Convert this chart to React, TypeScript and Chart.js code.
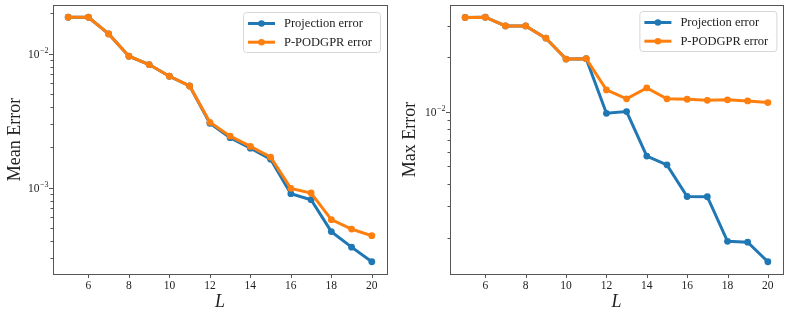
import React, { useEffect, useRef } from 'react';
import { Chart, registerables } from 'chart.js';

Chart.register(...registerables);

// ---------- data ----------
const L = [5, 6, 7, 8, 9, 10, 11, 12, 13, 14, 15, 16, 17, 18, 19, 20];
const xTicks = [6, 8, 10, 12, 14, 16, 18, 20];
const seriesLabels = ['Projection error', 'P-PODGPR error'];
const yTitles = ['Mean Error', 'Max Error'];
const xTitle = 'L';

const meanProjection = [0.01866, 0.01866, 0.0140, 0.00955, 0.00828, 0.00677, 0.00573, 0.00302, 0.00236, 0.00197, 0.00163, 0.000902, 0.000813, 0.00047, 0.00036, 0.00028];
const meanPodgpr = [0.01866, 0.01866, 0.0140, 0.00955, 0.00828, 0.00677, 0.00573, 0.00307, 0.00242, 0.00203, 0.00169, 0.000988, 0.000912, 0.000577, 0.000491, 0.000438];

const maxProjection = [0.0333, 0.0334, 0.0299, 0.0299, 0.0256, 0.0196, 0.0197, 0.00982, 0.01004, 0.00569, 0.00509, 0.0034, 0.00339, 0.00192, 0.0019, 0.00148];
const maxPodgpr = [0.0333, 0.0334, 0.0299, 0.0299, 0.0256, 0.0196, 0.0197, 0.01323, 0.0118, 0.01357, 0.0118, 0.01174, 0.01159, 0.01165, 0.0115, 0.01125];

// ---------- styles ----------
const BLUE = '#1f77b4';
const ORANGE = '#ff7f0e';
const FONT = '"Liberation Serif", "DejaVu Serif", serif';
const TEXT = '#222';
const SPINE = '#555';

type PanelProps = {
  width: number;
  yTitle: string;
  projection: number[];
  podgpr: number[];
  yAxisWidth: number;
  rightPad: number;
  legendInset: { right: number; top: number };
};

function Panel({ width, yTitle, projection, podgpr, yAxisWidth, rightPad, legendInset }: PanelProps) {
  const ref = useRef<HTMLCanvasElement>(null);

  useEffect(() => {
    if (!ref.current) return;
    const all = [...projection, ...podgpr];
    const lo = Math.log10(Math.min(...all));
    const hi = Math.log10(Math.max(...all));
    const m = (hi - lo) * 0.05;
    const yMin = Math.pow(10, lo - m);
    const yMax = Math.pow(10, hi + m);
    const xSpan = L[L.length - 1] - L[0];
    const xMin = L[0] - xSpan * 0.05;
    const xMax = L[L.length - 1] + xSpan * 0.05;

    const decorPlugin = {
      id: 'decor',
      afterDraw(chart: any) {
        const ctx = chart.ctx as CanvasRenderingContext2D;
        const a = chart.chartArea;
        const xs = chart.scales.x;
        const ys = chart.scales.y;
        ctx.save();
        // frame
        ctx.strokeStyle = SPINE;
        ctx.lineWidth = 1;
        ctx.strokeRect(Math.round(a.left) + 0.5, Math.round(a.top) + 0.5, Math.round(a.right - a.left), Math.round(a.bottom - a.top));
        // x tick marks
        ctx.beginPath();
        for (const v of xTicks) {
          const x = Math.round(xs.getPixelForValue(v)) + 0.5;
          ctx.moveTo(x, a.bottom);
          ctx.lineTo(x, a.bottom + 4);
        }
        // y tick marks (major + minor)
        const dLo = Math.floor(Math.log10(yMin));
        const dHi = Math.ceil(Math.log10(yMax));
        const majors: number[] = [];
        for (let d = dLo; d <= dHi; d++) {
          for (let k = 1; k <= 9; k++) {
            const v = k * Math.pow(10, d);
            if (v < yMin || v > yMax) continue;
            const y = Math.round(ys.getPixelForValue(v)) + 0.5;
            const len = k === 1 ? 4 : 2.5;
            ctx.moveTo(a.left, y);
            ctx.lineTo(a.left - len, y);
            if (k === 1) majors.push(d);
          }
        }
        ctx.stroke();
        // y tick labels 10^d
        ctx.fillStyle = TEXT;
        for (const d of majors) {
          const y = ys.getPixelForValue(Math.pow(10, d));
          const exp = (d < 0 ? '\u2212' : '') + Math.abs(d);
          ctx.font = `8px ${FONT}`;
          const we = ctx.measureText(exp).width;
          ctx.font = `11.5px ${FONT}`;
          const wb = ctx.measureText('10').width;
          const xe = a.left - 4.5;
          ctx.textAlign = 'left';
          ctx.textBaseline = 'alphabetic';
          ctx.fillText('10', xe - we - wb - 0.5, y + 4);
          ctx.font = `8px ${FONT}`;
          ctx.fillText(exp, xe - we, y - 0.5);
        }
        // x title
        ctx.font = `italic 18px ${FONT}`;
        ctx.textAlign = 'center';
        ctx.textBaseline = 'alphabetic';
        ctx.fillText(xTitle, (a.left + a.right) / 2, 307);
        // y title
        ctx.save();
        ctx.translate(15, (a.top + a.bottom) / 2);
        ctx.rotate(-Math.PI / 2);
        ctx.font = `18px ${FONT}`;
        ctx.textAlign = 'center';
        ctx.textBaseline = 'middle';
        ctx.fillText(yTitle, 0, 0);
        ctx.restore();
        // legend
        const bw = 137;
        const bh = 40;
        const bx = a.right - legendInset.right - bw;
        const by = a.top + legendInset.top;
        ctx.beginPath();
        ctx.roundRect(bx + 0.5, by + 0.5, bw, bh, 3);
        ctx.fillStyle = 'rgba(255,255,255,0.8)';
        ctx.fill();
        ctx.strokeStyle = '#d6d6d6';
        ctx.lineWidth = 1;
        ctx.stroke();
        chart.data.datasets.forEach((ds: any, i: number) => {
          const cy = by + 11.5 + i * 18.7;
          ctx.strokeStyle = ds.borderColor;
          ctx.lineWidth = 3;
          ctx.beginPath();
          ctx.moveTo(bx + 5, cy);
          ctx.lineTo(bx + 32, cy);
          ctx.stroke();
          ctx.fillStyle = ds.borderColor;
          ctx.beginPath();
          ctx.arc(bx + 18.5, cy, 3.3, 0, Math.PI * 2);
          ctx.fill();
          ctx.fillStyle = TEXT;
          ctx.font = `12.5px ${FONT}`;
          ctx.textAlign = 'left';
          ctx.textBaseline = 'middle';
          ctx.fillText(ds.label, bx + 41, cy + 0.5);
        });
        ctx.restore();
      },
    };

    const mk = (vals: number[]) => L.map((x, i) => ({ x, y: vals[i] }));

    const chart = new Chart(ref.current, {
      type: 'line',
      data: {
        datasets: [
          {
            label: seriesLabels[0],
            data: mk(projection),
            borderColor: BLUE,
            backgroundColor: BLUE,
            borderWidth: 3,
            pointRadius: 3.4,
            pointBorderWidth: 0,
            tension: 0,
            order: 1,
          },
          {
            label: seriesLabels[1],
            data: mk(podgpr),
            borderColor: ORANGE,
            backgroundColor: ORANGE,
            borderWidth: 3,
            pointRadius: 3.4,
            pointBorderWidth: 0,
            tension: 0,
            order: 0,
          },
        ],
      },
      options: {
        animation: false,
        responsive: false,
        layout: { padding: { left: 0, right: rightPad, top: 5, bottom: 0 } },
        plugins: { legend: { display: false }, tooltip: { enabled: false } },
        scales: {
          x: {
            type: 'linear',
            min: xMin,
            max: xMax,
            grid: { display: false, drawTicks: false },
            border: { display: false },
            ticks: {
              font: { family: FONT, size: 11.5 },
              color: TEXT,
              padding: 5,
              autoSkip: false,
              maxRotation: 0,
            },
            afterBuildTicks: (s: any) => {
              s.ticks = xTicks.map((v) => ({ value: v }));
            },
            afterFit: (s: any) => {
              s.height = 42;
            },
          },
          y: {
            type: 'logarithmic',
            min: yMin,
            max: yMax,
            grid: { display: false, drawTicks: false },
            border: { display: false },
            ticks: { display: false },
            afterFit: (s: any) => {
              s.width = yAxisWidth;
            },
          },
        },
      },
      plugins: [decorPlugin],
    } as any);

    return () => chart.destroy();
  }, []);

  return <canvas ref={ref} width={width} height={316} style={{ width, height: 316, display: 'block' }} />;
}

export default function App() {
  return (
    <div style={{ position: 'fixed', left: 0, top: 0, width: 789, height: 316, display: 'flex', background: '#fff' }}>
      <Panel
        width={395}
        yTitle={yTitles[0]}
        projection={meanProjection}
        podgpr={meanPodgpr}
        yAxisWidth={53}
        rightPad={8}
        legendInset={{ right: 7, top: 7 }}
      />
      <Panel
        width={394}
        yTitle={yTitles[1]}
        projection={maxProjection}
        podgpr={maxPodgpr}
        yAxisWidth={55}
        rightPad={6}
        legendInset={{ right: 6.6, top: 6 }}
      />
    </div>
  );
}
